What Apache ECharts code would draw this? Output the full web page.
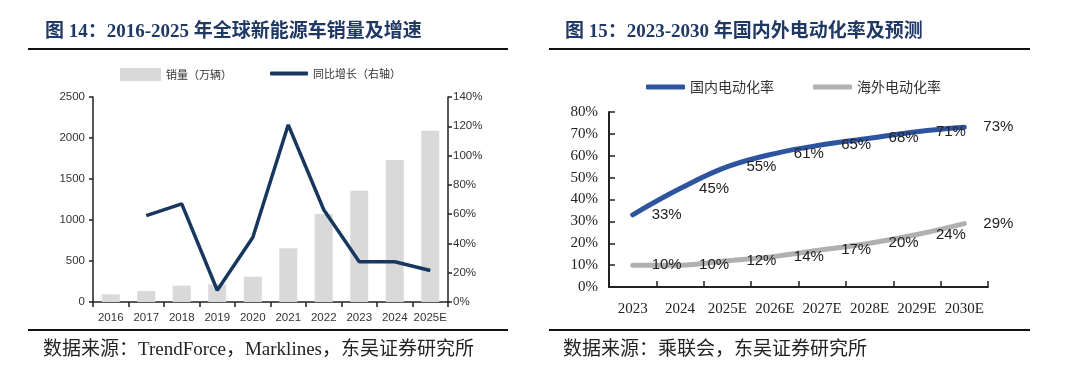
<!DOCTYPE html>
<html>
<head>
<meta charset="utf-8">
<script src="https://cdn.jsdelivr.net/npm/echarts@6/dist/echarts.min.js"></script>
<style>html,body{margin:0;padding:0;background:#fff;}#c{width:1080px;height:378px;}</style>
</head>
<body>
<div id="c"></div>
<script>
// Left chart data
const years1 = ['2016','2017','2018','2019','2020','2021','2022','2023','2024','2025E'];
const sales = [94, 134, 199, 216, 309, 655, 1073, 1357, 1732, 2089];
const growth = ['-', 59, 67, 8, 44, 121, 63, 27.5, 27.5, 21.5];
// Right chart data
const years2 = ['2023','2024','2025E','2026E','2027E','2028E','2029E','2030E'];
const domestic = [33, 45, 55, 61, 65, 68, 71, 73];
const overseas = [10, 10, 12, 14, 17, 20, 24, 29];

const SERIF = '"Liberation Serif","Noto Sans CJK SC",serif';
const SANS = '"Liberation Sans","Noto Sans CJK SC",sans-serif';
const CJK = '"Noto Sans CJK SC","Liberation Serif",serif';

const chart = echarts.init(document.getElementById('c'));
chart.setOption({
  animation: false,
  backgroundColor: '#fff',
  title: [
    {text: '图 14：2016-2025 年全球新能源车销量及增速', left: 40, top: 18,
     textStyle: {fontFamily: SERIF, fontWeight: 'bold', fontSize: 19, color: '#1f3864'}},
    {text: '图 15：2023-2030 年国内外电动化率及预测', left: 560, top: 18,
     textStyle: {fontFamily: SERIF, fontWeight: 'bold', fontSize: 19, color: '#1f3864'}},
    {text: '数据来源：TrendForce，Marklines，东吴证券研究所', left: 38, top: 336,
     textStyle: {fontFamily: SERIF, fontWeight: 'normal', fontSize: 19, color: '#222'}},
    {text: '数据来源：乘联会，东吴证券研究所', left: 558, top: 336,
     textStyle: {fontFamily: SERIF, fontWeight: 'normal', fontSize: 19, color: '#222'}}
  ],
  graphic: [
    {type: 'line', shape: {x1: 28, y1: 49, x2: 508, y2: 49}, style: {stroke: '#111', lineWidth: 2}},
    {type: 'line', shape: {x1: 549, y1: 49, x2: 1030, y2: 49}, style: {stroke: '#111', lineWidth: 2}},
    {type: 'line', shape: {x1: 28, y1: 330, x2: 508, y2: 330}, style: {stroke: '#111', lineWidth: 2}},
    {type: 'line', shape: {x1: 549, y1: 330, x2: 1030, y2: 330}, style: {stroke: '#111', lineWidth: 2}}
  ],
  legend: [
    {data: [{name: '销量（万辆）', icon: 'rect'}], left: 115, top: 63, itemWidth: 41, itemHeight: 13, itemGap: 4,
     textStyle: {fontFamily: CJK, fontSize: 11, color: '#333'}},
    {data: [{name: '同比增长（右轴）', icon: 'roundRect'}], left: 265, top: 63, itemWidth: 38, itemHeight: 4, itemGap: 4,
     textStyle: {fontFamily: CJK, fontSize: 11, color: '#333'}},
    {data: [{name: '国内电动化率', icon: 'roundRect'}, {name: '海外电动化率', icon: 'roundRect'}],
     left: 641, top: 75, itemWidth: 39, itemHeight: 5, itemGap: 39,
     textStyle: {fontFamily: CJK, fontSize: 14, color: '#333'}}
  ],
  grid: [
    {left: 93, right: 632, top: 97, bottom: 76, containLabel: false},
    {left: 609, right: 92, top: 112, bottom: 91, containLabel: false}
  ],
  xAxis: [
    {type: 'category', gridIndex: 0, data: years1,
     axisLine: {lineStyle: {color: '#222', width: 1.5}},
     axisTick: {show: true, alignWithLabel: false, length: 5, lineStyle: {color: '#222', width: 1.5}},
     axisLabel: {interval: 0, fontFamily: SANS, fontSize: 11.5, color: '#333', margin: 10}},
    {type: 'category', gridIndex: 1, data: years2,
     axisLine: {lineStyle: {color: '#222', width: 2}},
     axisTick: {show: true, inside: true, alignWithLabel: false, length: 6, lineStyle: {color: '#222', width: 1.5}},
     axisLabel: {interval: 0, fontFamily: SERIF, fontSize: 15, color: '#222', margin: 15}}
  ],
  yAxis: [
    {type: 'value', gridIndex: 0, min: 0, max: 2500, interval: 500,
     splitLine: {show: false},
     axisLine: {show: true, lineStyle: {color: '#222', width: 1.5}},
     axisTick: {show: true, length: 4, lineStyle: {color: '#222', width: 1.5}},
     axisLabel: {fontFamily: SANS, fontSize: 11.5, color: '#333', margin: 8, formatter: v => String(v)}},
    {type: 'value', gridIndex: 0, position: 'right', min: 0, max: 140, interval: 20,
     splitLine: {show: false},
     axisLine: {show: true, lineStyle: {color: '#222', width: 1.5}},
     axisTick: {show: true, length: 4, lineStyle: {color: '#222', width: 1.5}},
     axisLabel: {fontFamily: SANS, fontSize: 11.5, color: '#333', margin: 5, formatter: '{value}%'}},
    {type: 'value', gridIndex: 1, min: 0, max: 80, interval: 10,
     splitLine: {show: false},
     axisLine: {show: true, lineStyle: {color: '#222', width: 2}},
     axisTick: {show: true, inside: true, length: 6, lineStyle: {color: '#222', width: 1.5}},
     axisLabel: {fontFamily: SERIF, fontSize: 15, color: '#222', margin: 11, formatter: '{value}%'}}
  ],
  series: [
    {name: '销量（万辆）', type: 'bar', xAxisIndex: 0, yAxisIndex: 0, data: sales, barWidth: 18,
     itemStyle: {color: '#d9d9d9'}, z: 1},
    {name: '同比增长（右轴）', type: 'line', xAxisIndex: 0, yAxisIndex: 1, data: growth,
     showSymbol: false, symbol: 'none', lineStyle: {color: '#17375e', width: 3.5},
     itemStyle: {color: '#17375e'}, z: 3},
    {name: '国内电动化率', type: 'line', xAxisIndex: 1, yAxisIndex: 2, data: domestic, smooth: 0.4,
     symbol: 'circle', symbolSize: 0, showSymbol: true,
     lineStyle: {color: '#2e54a0', width: 5, cap: 'round'}, itemStyle: {color: '#2e54a0'},
     label: {show: true, position: 'right', distance: 19, formatter: '{c}%', fontFamily: SANS, fontSize: 15, color: '#222'}},
    {name: '海外电动化率', type: 'line', xAxisIndex: 1, yAxisIndex: 2, data: overseas, smooth: 0.4,
     symbol: 'circle', symbolSize: 0, showSymbol: true,
     lineStyle: {color: '#b0b0b0', width: 5, cap: 'round'}, itemStyle: {color: '#b0b0b0'},
     label: {show: true, position: 'right', distance: 19, formatter: '{c}%', fontFamily: SANS, fontSize: 15, color: '#222'}}
  ]
});
</script>
</body>
</html>
